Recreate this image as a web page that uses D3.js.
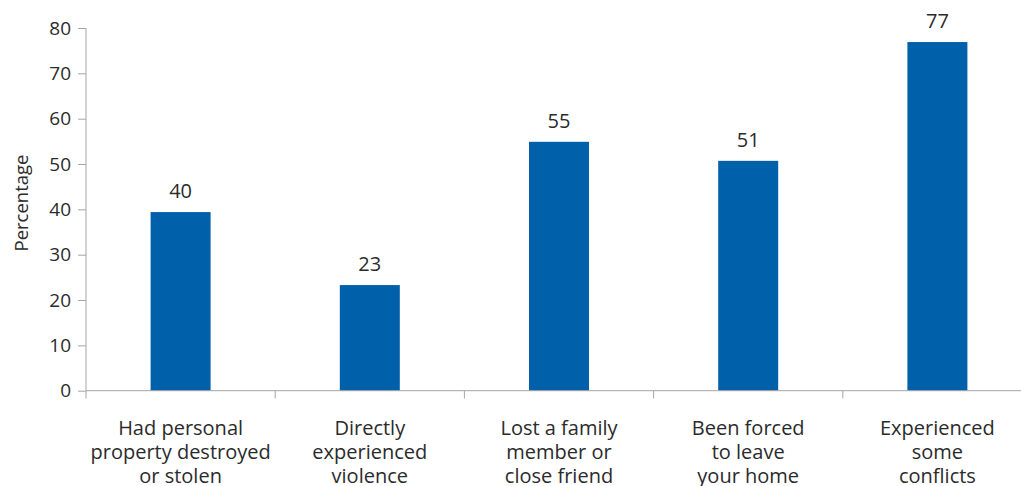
<!DOCTYPE html>
<html><head><meta charset="utf-8">
<script src="https://cdn.jsdelivr.net/npm/d3@7"></script>
<style>body{margin:0;background:#fff}svg{display:block}text{font-family:"Open Sans","Noto Sans",sans-serif;font-weight:400;fill:#2b2b2b}</style>
</head><body><svg id="c" width="1021" height="486"></svg>
<script>
const categories = [
  ["Had personal","property destroyed","or stolen"],
  ["Directly","experienced","violence"],
  ["Lost a family","member or","close friend"],
  ["Been forced","to leave","your home"],
  ["Experienced","some","conflicts"]
];
const values = [39.4, 23.3, 54.9, 50.7, 76.9];
const valueLabels = ["40", "23", "55", "51", "77"];
const yTicks = [0, 10, 20, 30, 40, 50, 60, 70, 80];
const yTitle = "Percentage";

const svg = d3.select("#c");
const x = d3.scaleBand().domain(d3.range(values.length)).range([86, 1032]).paddingInner(0).paddingOuter(0);
const y = d3.scaleLinear().domain([0, 80]).range([390.7, 28]);
const barW = 60;
const axisColor = "#a6a6a6";

// bars
svg.selectAll("rect.bar").data(values).join("rect")
  .attr("x", (d,i) => x(i) + x.bandwidth()/2 - barW/2)
  .attr("y", d => y(d))
  .attr("width", barW)
  .attr("height", d => y(0) - y(d))
  .attr("fill", "#0060a9");

// y axis
const ya = svg.append("g").attr("transform", "translate(86,0)")
  .call(d3.axisLeft(y).tickValues(yTicks).tickSize(8).tickPadding(7));
ya.select(".domain").attr("stroke", axisColor).attr("d", `M0,${y(80)}V398.5`);
ya.selectAll(".tick line").attr("stroke", axisColor);
ya.selectAll(".tick text").style("font-size", "19px").attr("fill", "#2b2b2b");

// x axis baseline
svg.append("line").attr("x1", 86).attr("x2", 1021).attr("y1", y(0)).attr("y2", y(0)).attr("stroke", axisColor);
svg.selectAll("line.xt").data(d3.range(1, values.length)).join("line")
  .attr("x1", i => x(i)).attr("x2", i => x(i))
  .attr("y1", y(0)).attr("y2", 398.5).attr("stroke", axisColor);

// value labels
svg.selectAll("text.val").data(values).join("text")
  .attr("x", (d,i) => x(i) + x.bandwidth()/2)
  .attr("y", d => y(d) - 14)
  .attr("text-anchor", "middle")
  .style("font-size", "20px")
  .text((d,i) => valueLabels[i]);

// category labels
categories.forEach((lines, i) => {
  const t = svg.append("text")
    .attr("x", x(i) + x.bandwidth()/2)
    .attr("y", 435)
    .attr("text-anchor", "middle")
    .style("font-size", "20px");
  lines.forEach((l, j) => t.append("tspan").attr("x", x(i) + x.bandwidth()/2).attr("dy", j ? 24 : 0).text(l));
});

// y title
svg.append("text").attr("transform", "translate(28,203) rotate(-90)")
  .attr("text-anchor", "middle").style("font-size", "18.5px").text(yTitle);
</script></body></html>
